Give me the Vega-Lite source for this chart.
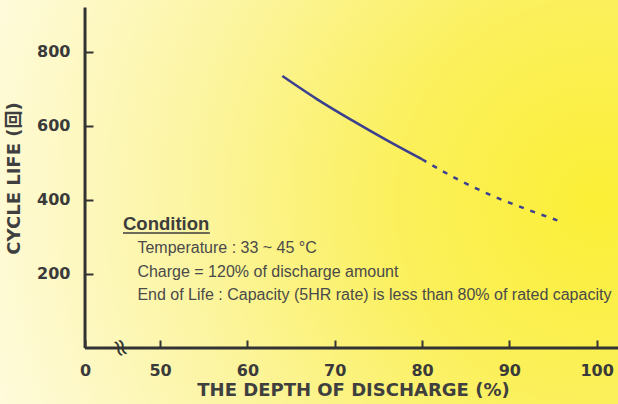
{
  "$schema": "https://vega.github.io/schema/vega-lite/v6.json",
  "width": 618,
  "height": 404,
  "padding": 0,
  "autosize": {"type": "none"},
  "config": {
    "view": {
      "stroke": null,
      "fill": {
        "gradient": "radial",
        "x1": 0.97, "y1": 0.5, "r1": 0,
        "x2": 0.97, "y2": 0.5, "r2": 1.1,
        "stops": [
          {"offset": 0, "color": "#fbef36"},
          {"offset": 0.3, "color": "#fbf05c"},
          {"offset": 0.62, "color": "#fcf5a4"},
          {"offset": 1, "color": "#fffce8"}
        ]
      }
    },
    "axis": {"grid": false, "domain": false, "labelFont": "DejaVu Sans", "titleFont": "DejaVu Sans, Noto Sans CJK JP"}
  },
  "datasets": {
    "solid": [
      {"dod": 64, "cycles": 735},
      {"dod": 68, "cycles": 672},
      {"dod": 72, "cycles": 615},
      {"dod": 76, "cycles": 561},
      {"dod": 80, "cycles": 510}
    ],
    "dashed": [
      {"dod": 80, "cycles": 510},
      {"dod": 84, "cycles": 457},
      {"dod": 88, "cycles": 412},
      {"dod": 92, "cycles": 375},
      {"dod": 95.5, "cycles": 345}
    ],
    "axes": [
      {"x": 41.4, "x2": 41.4, "y": 0, "y2": 920},
      {"x": 41.4, "x2": 102.45, "y": 0, "y2": 0}
    ],
    "heading": [{"x": 45.75, "y": 335, "text": "Condition"}],
    "underline": [{"x": 45.75, "x2": 55.7, "y": 311}],
    "notes": [
      {"x": 47.4, "y": 270, "text": "Temperature : 33 ~ 45 °C"},
      {"x": 47.4, "y": 205, "text": "Charge = 120% of discharge amount"},
      {"x": 47.4, "y": 143, "text": "End of Life : Capacity (5HR rate) is less than  80% of rated capacity"}
    ],
    "brk": [{"x": 45.4, "y": 0, "text": "≈"}]
  },
  "encoding": {
    "x": {
      "field": "dod", "type": "quantitative",
      "scale": {"domain": [31.66, 102.45], "nice": false, "zero": false},
      "axis": {
        "title": "THE DEPTH OF DISCHARGE (%)",
        "offset": -56,
        "values": [41.4, 50, 60, 70, 80, 90, 100],
        "labelExpr": "datum.value < 45 ? '0' : datum.label",
        "tickSize": -8, "tickWidth": 2, "tickColor": "#333",
        "labelPadding": 22, "labelFontSize": 16, "labelFontWeight": "bold", "labelColor": "#3a3a3a",
        "labelBaseline": "top",
        "titleFontSize": 18, "titleFontWeight": "bold", "titleColor": "#3f3f3f",
        "titleX": 353, "titleY": 42, "titleBaseline": "middle", "titleAnchor": null
      }
    },
    "y": {
      "field": "cycles", "type": "quantitative",
      "scale": {"domain": [-151.35, 940.5], "nice": false, "zero": false},
      "axis": {
        "title": "CYCLE LIFE (回)",
        "offset": -85,
        "values": [200, 400, 600, 800],
        "tickSize": -8, "tickWidth": 2, "tickColor": "#333",
        "labelPadding": 23, "labelFontSize": 16, "labelFontWeight": "bold", "labelColor": "#3a3a3a",
        "titleFontSize": 18, "titleFontWeight": "bold", "titleColor": "#3f3f3f",
        "titleX": -71, "titleY": 178, "titleBaseline": "middle"
      }
    }
  },
  "layer": [
    {
      "data": {"name": "axes"},
      "mark": {"type": "rule", "color": "#333", "strokeWidth": 3},
      "encoding": {
        "x": {"field": "x", "type": "quantitative"},
        "x2": {"field": "x2"},
        "y": {"field": "y", "type": "quantitative"},
        "y2": {"field": "y2"}
      }
    },
    {
      "data": {"name": "brk"},
      "mark": {"type": "text", "fontSize": 24, "angle": 70, "color": "#333", "font": "DejaVu Sans"},
      "encoding": {
        "x": {"field": "x", "type": "quantitative"},
        "y": {"field": "y", "type": "quantitative"},
        "text": {"field": "text"}
      }
    },
    {
      "data": {"name": "solid"},
      "mark": {"type": "line", "color": "#3b3f8e", "strokeWidth": 2.5, "interpolate": "monotone"}
    },
    {
      "data": {"name": "dashed"},
      "mark": {"type": "line", "color": "#3b3f8e", "strokeWidth": 2.5, "strokeDash": [5, 7], "interpolate": "monotone"}
    },
    {
      "data": {"name": "heading"},
      "mark": {"type": "text", "align": "left", "baseline": "middle", "font": "Liberation Sans", "fontSize": 18.5, "fontWeight": "bold", "color": "#3d3d3d"},
      "encoding": {
        "x": {"field": "x", "type": "quantitative"},
        "y": {"field": "y", "type": "quantitative"},
        "text": {"field": "text"}
      }
    },
    {
      "data": {"name": "underline"},
      "mark": {"type": "rule", "color": "#3d3d3d", "strokeWidth": 1.5},
      "encoding": {
        "x": {"field": "x", "type": "quantitative"},
        "x2": {"field": "x2"},
        "y": {"field": "y", "type": "quantitative"}
      }
    },
    {
      "data": {"name": "notes"},
      "mark": {"type": "text", "align": "left", "baseline": "middle", "font": "Liberation Sans", "fontSize": 16, "color": "#4a4a4a"},
      "encoding": {
        "x": {"field": "x", "type": "quantitative"},
        "y": {"field": "y", "type": "quantitative"},
        "text": {"field": "text"}
      }
    }
  ]
}
